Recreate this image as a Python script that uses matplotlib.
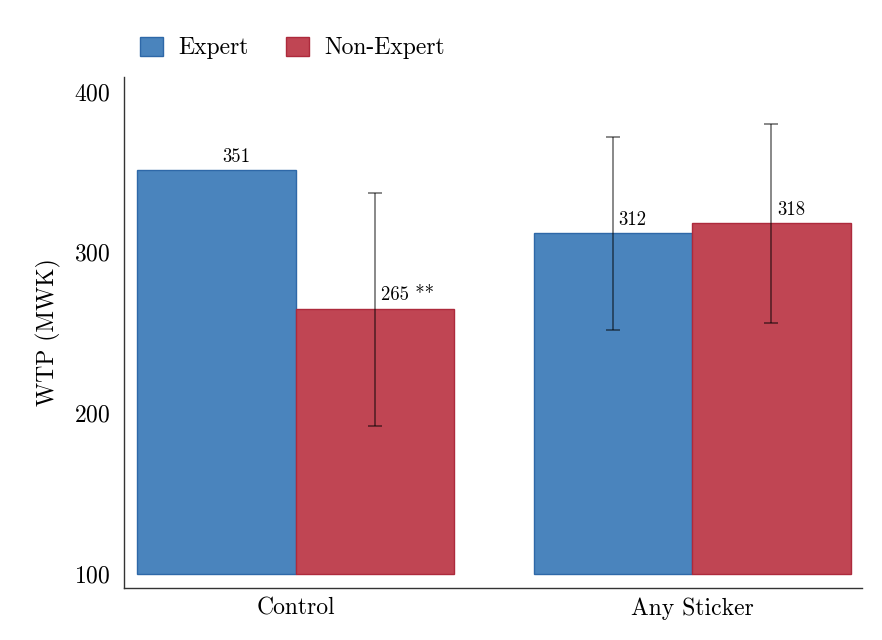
import matplotlib
matplotlib.use("Agg")
import matplotlib.pyplot as plt
import numpy as np

plt.rcParams['font.family'] = 'serif'
plt.rcParams['font.serif'] = ['cmr10']
plt.rcParams['axes.formatter.use_mathtext'] = True

categories = ["Control", "Any Sticker"]
series_names = ["Expert", "Non-Expert"]
expert = [351, 312]
non_expert = [265, 318]
expert_err_low = [None, 252]
expert_err_high = [None, 372]
nonexp_err_low = [192, 256]
nonexp_err_high = [337, 380]
expert_labels = ["351", "312"]
nonexp_labels = ["265 **", "318"]
yticks = [100, 200, 300, 400]

base = 100
blue = "#4a84bd"
blue_edge = "#2e68a8"
red = "#c04553"
red_edge = "#ad2a3c"

fig = plt.figure(figsize=(8.82, 6.4), dpi=100)
ax = fig.add_axes([124/882, 1-588/640, (862-124)/882, (588-77)/640])

x = np.arange(len(categories))
w = 0.4
xe = x - w/2
xn = x + w/2

ax.bar(xe, np.array(expert) - base, bottom=base, width=w, color=blue,
       edgecolor=blue_edge, linewidth=1, label=series_names[0])
ax.bar(xn, np.array(non_expert) - base, bottom=base, width=w, color=red,
       edgecolor=red_edge, linewidth=1, label=series_names[1])

def draw_err(xs, vals, lows, highs):
    for xi, v, lo, hi in zip(xs, vals, lows, highs):
        if lo is None:
            continue
        ax.errorbar([xi], [v], yerr=[[v - lo], [hi - v]], fmt='none',
                    ecolor='black', elinewidth=1.3, capsize=5, capthick=1.3,
                    alpha=0.5, zorder=3)

draw_err(xe, expert, expert_err_low, expert_err_high)
draw_err(xn, non_expert, nonexp_err_low, nonexp_err_high)

for xs, vals, labs in [(xe, expert, expert_labels), (xn, non_expert, nonexp_labels)]:
    for xi, v, lab in zip(xs, vals, labs):
        ax.annotate(lab, (xi, v), xytext=(4, 3), textcoords='offset points',
                    ha='left', va='bottom', fontsize=13.5)

ax.set_xlim(-0.434, 1.429)
ax.set_ylim(91.3, 409)
ax.set_yticks(yticks)
ax.set_xticks(x)
ax.set_xticklabels(categories)
ax.tick_params(axis='both', length=0, labelsize=17)
ax.tick_params(axis='y', pad=10)
ax.tick_params(axis='x', pad=7)
ax.set_ylabel("WTP (MWK)", fontsize=17, labelpad=9)

for s in ['top', 'right']:
    ax.spines[s].set_visible(False)
for s in ['left', 'bottom']:
    ax.spines[s].set_color('#333333')
    ax.spines[s].set_linewidth(1.0)

ax.legend(loc='center left', bbox_to_anchor=(0.0217, 1 + 29/511), ncol=2,
          frameon=False, fontsize=17, handlelength=0.98, handleheight=0.86,
          handletextpad=0.64, columnspacing=1.58, borderpad=0, borderaxespad=0)

fig.savefig("out.png", dpi=100)
